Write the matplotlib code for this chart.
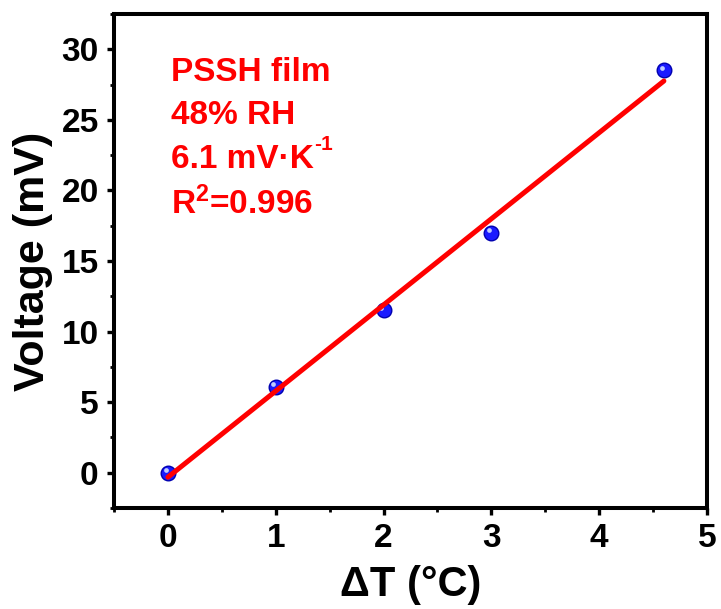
import numpy as np
import matplotlib
matplotlib.use('Agg')
import matplotlib.pyplot as plt
import matplotlib.transforms as mtransforms

plt.rcParams['font.family'] = ['Liberation Sans', 'DejaVu Sans']
plt.rcParams['font.weight'] = 'bold'
plt.rcParams['mathtext.fontset'] = 'custom'
plt.rcParams['mathtext.rm'] = 'Liberation Sans:bold'
plt.rcParams['mathtext.it'] = 'Liberation Sans:bold'
plt.rcParams['mathtext.bf'] = 'Liberation Sans:bold'
plt.rcParams['mathtext.default'] = 'rm'

# data
delta_t = np.array([0, 1, 2, 3, 4.6])
voltage = np.array([0, 6.1, 11.5, 17.0, 28.5])
x_ticks = [0, 1, 2, 3, 4, 5]
y_ticks = [0, 5, 10, 15, 20, 25, 30]

fit = np.poly1d(np.polyfit(delta_t, voltage, 1))
xp = np.array([delta_t.min(), delta_t.max()])

fig = plt.figure(figsize=(7.21, 6.09), dpi=100)
W, H = 721, 609
ax = fig.add_axes([114 / W, 1 - 508 / H, (707 - 114) / W, (508 - 14) / H])

# spheres: blue dot + small highlight
ax.plot(delta_t, voltage, 'o', ms=10.5, color='#1a1aff', mec='#0000b0', mew=1, zorder=2)
hl = ax.transData + mtransforms.ScaledTranslation(-1.7 / 72, 1.7 / 72, fig.dpi_scale_trans)
ax.plot(delta_t, voltage, 'o', ms=3.4, color='#c0ccff', mew=0, transform=hl, zorder=2)

ax.plot(xp, fit(xp), color='#ff0000', lw=3.6, solid_capstyle='round', zorder=3)

ax.set_xlim(-0.5, 5)
ax.set_ylim(-2.5, 32.5)
ax.set_xticks(x_ticks)
ax.set_yticks(y_ticks)
ax.set_xticks(np.arange(-0.5, 5.01, 0.5), minor=True)
ax.set_yticks(np.arange(-2.5, 32.6, 2.5), minor=True)

for s in ax.spines.values():
    s.set_linewidth(2.9)
ax.tick_params(which='major', direction='out', length=5, width=2.4, labelsize=24, pad=6)
ax.tick_params(which='minor', direction='out', length=3, width=2.0)

ax.set_xlabel('ΔT (°C)', fontsize=30, fontweight='bold', labelpad=8)
ax.set_ylabel('Voltage (mV)', fontsize=31, fontweight='bold', labelpad=6)

red = '#ff0000'
tx = (171 - 114) / 593
kw = dict(transform=ax.transAxes, color=red, fontsize=24, fontweight='bold',
          va='baseline', ha='left')
ax.text(tx, (508 - 81) / 494, 'PSSH film', **kw)
ax.text(tx, (508 - 124) / 494, '48% RH', **kw)
t3 = ax.text(tx, (508 - 168) / 494, '6.1 mV·K', **kw)
ax.annotate('-1', xy=(1, 1), xycoords=t3, xytext=(0.5, -7), textcoords='offset points',
            color=red, fontsize=15, fontweight='bold', va='bottom', ha='left')
ax.text(tx, (508 - 214) / 494, r'R$^{2}$=0.996', **kw)

fig.savefig('out.png', dpi=100)
